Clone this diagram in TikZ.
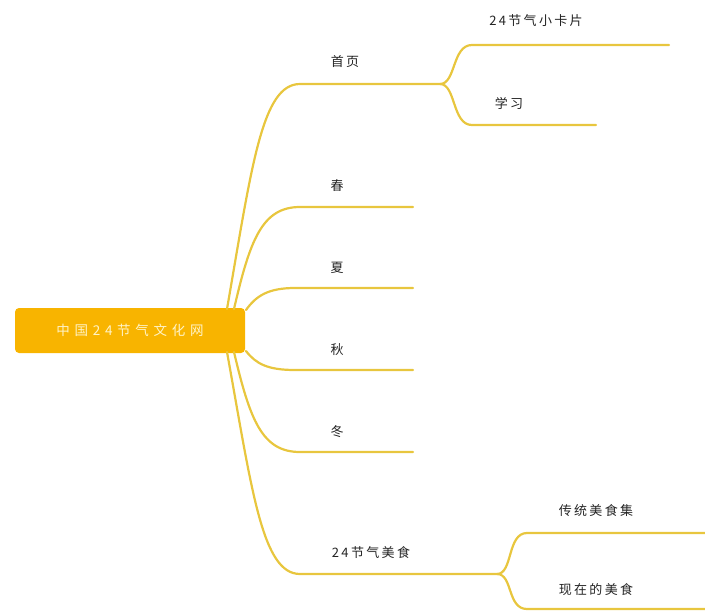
\documentclass[tikz,border=0pt]{standalone}
\usepackage{fontspec}
\newfontfamily\cjk[LetterSpace=18]{Noto Sans CJK SC}
\newfontfamily\cjkroot[LetterSpace=35]{Noto Sans CJK SC}
\definecolor{branch}{RGB}{232,198,62}
\definecolor{rootfill}{RGB}{248,180,0}
\definecolor{roottext}{RGB}{255,244,200}
\definecolor{txt}{RGB}{35,35,35}
\begin{document}
\begin{tikzpicture}[x=1pt,y=-1pt,
  link/.style={draw=branch,line width=2.2pt,line cap=round},
  rootbox/.style={fill=rootfill,rounded corners=4pt,minimum width=230pt,minimum height=45pt,inner sep=0pt,
    text=roottext,font=\cjkroot\fontsize{13.5}{15}\selectfont},
  lbl/.style={text=txt,font=\cjk\fontsize{13}{15}\selectfont,inner sep=0pt}]
\useasboundingbox (0,0) rectangle (705,614);
% root
\node[rootbox] (root) at (130,330.5) {中国24节气文化网};
% anchor points on root
\coordinate (r1) at (227,309);
\coordinate (r2) at (234,309);
\coordinate (r3) at (246,310);
\coordinate (r4) at (246,351);
\coordinate (r5) at (234,352);
\coordinate (r6) at (227,352);
% branch ends
\coordinate (a0) at (300,84);  \coordinate (a1) at (440,84);
\coordinate (b0) at (300,207); \coordinate (b1) at (413,207);
\coordinate (c0) at (295,288); \coordinate (c1) at (413,288);
\coordinate (d0) at (295,370); \coordinate (d1) at (413,370);
\coordinate (e0) at (300,452); \coordinate (e1) at (413,452);
\coordinate (f0) at (300,574); \coordinate (f1) at (497,574);
\coordinate (a2) at (472,45);  \coordinate (a3) at (669,45);
\coordinate (a4) at (472,125); \coordinate (a5) at (596,125);
\coordinate (f2) at (527,533); \coordinate (f3) at (705,533);
\coordinate (f4) at (527,609); \coordinate (f5) at (705,609);
% labels
\node[lbl] (shouye) at (345,62) {首页};
\node[lbl] (chun) at (337,186) {春};
\node[lbl] (xia) at (337,268) {夏};
\node[lbl] (qiu) at (337,350) {秋};
\node[lbl] (dong) at (337,432) {冬};
\node[lbl] (meishi) at (371,553) {24节气美食};
\node[lbl] (kapian) at (536,21) {24节气小卡片};
\node[lbl] (xuexi) at (509,103) {学习};
\node[lbl] (chuantong) at (596,511) {传统美食集};
\node[lbl] (xianzai) at (596,590) {现在的美食};
% connectors
\path[link] (r1) .. controls (252,165) and (262,84) .. (a0) -- (a1);
\path[link] (r2) .. controls (250,240) and (262,207) .. (b0) -- (b1);
\path[link] (r3) .. controls (256,296) and (268,288) .. (c0) -- (c1);
\path[link] (r4) .. controls (256,364) and (268,370) .. (d0) -- (d1);
\path[link] (r5) .. controls (250,420) and (262,452) .. (e0) -- (e1);
\path[link] (r6) .. controls (252,490) and (262,574) .. (f0) -- (f1);
\path[link] (a1) .. controls (456,84) and (452,45) .. (a2) -- (a3);
\path[link] (a1) .. controls (456,84) and (452,125) .. (a4) -- (a5);
\path[link] (f1) .. controls (513,574) and (507,533) .. (f2) -- (f3);
\path[link] (f1) .. controls (513,574) and (507,609) .. (f4) -- (f5);
\end{tikzpicture}
\end{document}
